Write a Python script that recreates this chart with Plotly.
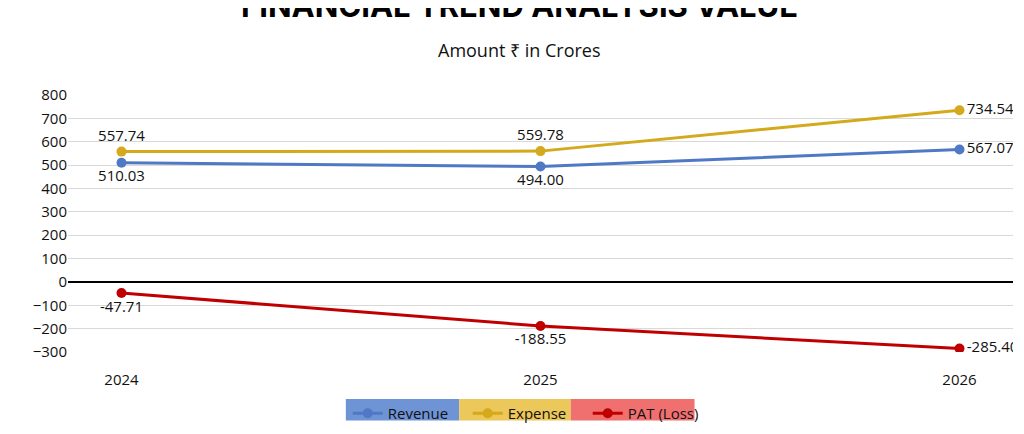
import plotly.graph_objects as go

years = ["2024", "2025", "2026"]
revenue = [510.03, 494.00, 567.07]
expense = [557.74, 559.78, 734.54]
pat = [-47.71, -188.55, -285.40]
y_ticks = [800, 700, 600, 500, 400, 300, 200, 100, 0, -100, -200, -300]

FONT = "Open Sans"
fig = go.Figure()

series = [
    ("Revenue", revenue, "#4f79c4", ["bottom center", "bottom center", "middle right"]),
    ("Expense", expense, "#d4a91c", ["top center", "top center", "middle right"]),
    ("PAT (Loss)", pat, "#c00000", ["bottom center", "bottom center", "middle right"]),
]
for name, vals, col, pos in series:
    fig.add_trace(go.Scatter(
        x=years, y=vals, name=name, mode="lines+markers+text",
        line=dict(color=col, width=3), marker=dict(size=10, color=col),
        text=[f"{v:.2f}" for v in vals], textposition=pos,
        textfont=dict(size=15, color="#111111", family=FONT),
    ))

# coloured legend boxes
for x0, x1, c in [(0.294, 0.414, "#6f94d6"), (0.414, 0.532, "#ecc75a"), (0.532, 0.663, "#f07070")]:
    fig.add_shape(type="rect", xref="paper", yref="paper", x0=x0, x1=x1, y0=-0.267, y1=-0.183,
                  fillcolor=c, line_width=0, layer="below")

fig.add_annotation(text="<b>FINANCIAL TREND ANALYSIS VALUE</b>", xref="paper", yref="paper",
                   x=0.478, y=1.27, xanchor="center", yanchor="bottom", showarrow=False,
                   font=dict(size=31, family="Inter", color="#000000"))
fig.add_annotation(text="Amount ₹ in Crores", xref="paper", yref="paper",
                   x=0.478, y=1.12, xanchor="center", yanchor="bottom", showarrow=False,
                   font=dict(size=18, family=FONT, color="#111111"))

fig.update_layout(
    width=1024, height=434,
    margin=dict(l=60, r=19, t=87, b=85),
    paper_bgcolor="white", plot_bgcolor="white",
    font=dict(family=FONT, color="#111111"),
    showlegend=True,
    legend=dict(orientation="h", x=0.296, xanchor="left", y=-0.175, yanchor="top",
                entrywidth=75, entrywidthmode="pixels", bgcolor="rgba(0,0,0,0)",
                font=dict(size=15, family=FONT, color="#111111")),
    xaxis=dict(type="category", showgrid=False, tickfont=dict(size=15),
               ticks="outside", ticklen=14, tickcolor="rgba(0,0,0,0)"),
    yaxis=dict(range=[-300, 800], tickvals=y_ticks,
               gridcolor="#d9d9d9", zeroline=True, zerolinecolor="#000000", zerolinewidth=1.5,
               tickfont=dict(size=15)),
)
fig.write_html("out.html")
